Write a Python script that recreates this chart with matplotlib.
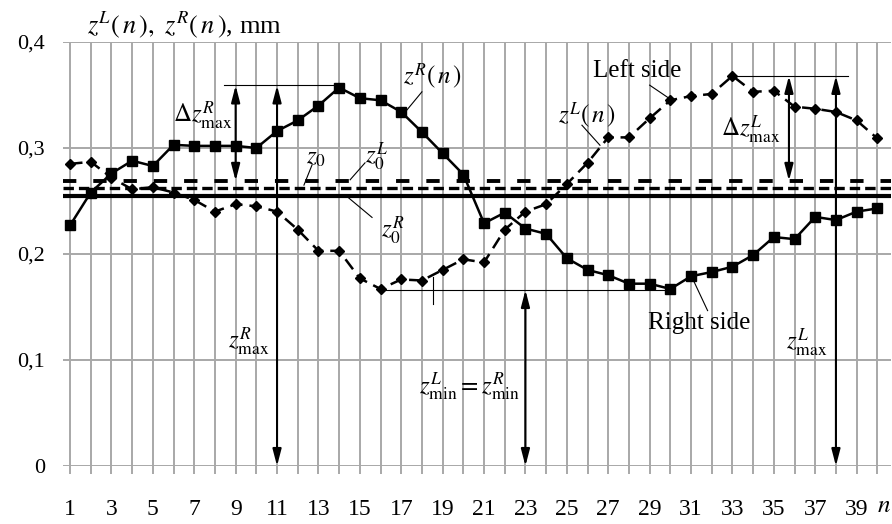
import numpy as np
import matplotlib
matplotlib.use("Agg")
import matplotlib.pyplot as plt

plt.rcParams['font.family'] = ['Liberation Serif', 'DejaVu Serif']
plt.rcParams['mathtext.fontset'] = 'stix'
plt.rcParams['lines.scale_dashes'] = False

# measurement number
n = np.arange(1, 41)
# right side profile z^R(n), mm
right = [0.227, 0.258, 0.276, 0.288, 0.283, 0.303, 0.302, 0.302, 0.302, 0.300,
         0.316, 0.326, 0.340, 0.357, 0.347, 0.345, 0.334, 0.315, 0.295, 0.275,
         0.229, 0.239, 0.224, 0.219, 0.196, 0.185, 0.180, 0.172, 0.172, 0.167,
         0.179, 0.183, 0.188, 0.199, 0.216, 0.214, 0.235, 0.232, 0.240, 0.243]
# left side profile z^L(n), mm
left = [0.285, 0.287, 0.272, 0.261, 0.263, 0.258, 0.251, 0.240, 0.247, 0.245,
        0.240, 0.223, 0.203, 0.203, 0.177, 0.167, 0.176, 0.175, 0.185, 0.195,
        0.192, 0.223, 0.240, 0.247, 0.266, 0.286, 0.310, 0.310, 0.328, 0.345,
        0.349, 0.351, 0.368, 0.353, 0.354, 0.339, 0.337, 0.334, 0.326, 0.309]
# mean levels
z0_L = 0.269
z0 = 0.2625
z0_R = 0.255

yticks = [0, 0.1, 0.2, 0.3, 0.4]
ytick_labels = ['0', '0,1', '0,2', '0,3', '0,4']

grid_c = '#a8a8a8'

fig = plt.figure(figsize=(8.92, 5.24), dpi=100)
ax = fig.add_axes([63 / 892, 1 - 466 / 524, 828 / 892, 424 / 524])
ax.set_xlim(0.66, 40.66)
ax.set_ylim(0, 0.4)
for s in ax.spines.values():
    s.set_visible(False)

# grid
for x in n:
    ax.plot([x, x], [0, 0.4], color=grid_c, lw=1.4, zorder=0)
for y in yticks:
    ax.axhline(y, color=grid_c, lw=1.4, zorder=0)

ax.set_xticks(n)
ax.set_xticklabels([str(v) if v % 2 == 1 else '' for v in n], fontsize=17)
ax.tick_params(axis='x', direction='out', length=6, width=1.4, color=grid_c, pad=18)
ax.set_yticks(yticks)
ax.set_yticklabels(ytick_labels, fontsize=16)
ax.tick_params(axis='y', length=0, pad=13)

# mean levels
ax.axhline(z0_L, color='black', lw=2.8, dashes=(9.6, 12.2), zorder=2)
ax.axhline(z0, color='black', lw=2.4, dashes=(7.5, 3.6), zorder=2)
ax.axhline(z0_R, color='black', lw=3.0, zorder=2)

# profiles
ax.plot(n, right, color='black', lw=1.8, marker='s', ms=7.5, zorder=4)
ax.plot(n, left, color='black', lw=1.8, dashes=(9, 5), marker='D', ms=4.8, zorder=4)

arw = dict(arrowstyle='<|-|>,head_length=0.5,head_width=0.13', color='black',
           lw=1.5, shrinkA=0, shrinkB=0, mutation_scale=20)
thin = dict(color='black', lw=0.8, zorder=3)

zmax_R = max(right)
zmax_L = max(left)
zmin = min(left)

# right maximum
ax.plot([8.44, 14], [zmax_R + 0.002, zmax_R + 0.002], **thin)
ax.annotate('', xy=(11, zmax_R + 0.002), xytext=(11, 0), arrowprops=arw, zorder=5)
ax.annotate('', xy=(9, zmax_R + 0.002), xytext=(9, z0_L), arrowprops=arw, zorder=5)
# left maximum
ax.plot([33, 38.6], [zmax_L, zmax_L], **thin)
ax.annotate('', xy=(38, zmax_L), xytext=(38, 0), arrowprops=arw, zorder=5)
ax.annotate('', xy=(35.73, zmax_L), xytext=(35.73, z0_L), arrowprops=arw, zorder=5)
# minimum
ax.plot([16, 30], [zmin - 0.001, zmin - 0.001], **thin)
ax.plot([18.54, 18.54], [0.153, 0.178], **thin)
ax.annotate('', xy=(23, zmin - 0.001), xytext=(23, 0), arrowprops=arw, zorder=5)

fs = 18
ax.text(8.83, 0.330, r'$\Delta z_{\mathrm{max}}^{R}$', fontsize=fs, ha='right', va='center')
ax.text(10.66, 0.117, r'$z_{\mathrm{max}}^{R}$', fontsize=fs, ha='right', va='center')
ax.text(20.3, 0.075, r'$z_{\mathrm{min}}^{L}=z_{\mathrm{min}}^{R}$', fontsize=fs,
        ha='center', va='center')
ax.text(35.3, 0.317, r'$\Delta z_{\mathrm{max}}^{L}$', fontsize=fs, ha='right', va='center')
ax.text(37.6, 0.116, r'$z_{\mathrm{max}}^{L}$', fontsize=fs, ha='right', va='center')

# labels with leaders
ax.text(28.4, 0.373, 'Left side', fontsize=18, ha='center', va='center')
ax.plot([29.0, 30.08], [0.3593, 0.345], **thin)
ax.text(31.4, 0.135, 'Right side', fontsize=18, ha='center', va='center')
ax.plot([31.8, 31.05], [0.1466, 0.1778], **thin)
ax.text(18.5, 0.368, r'$z^{R}\left(\,n\,\right)$', fontsize=fs, ha='center', va='center')
ax.plot([18.0, 17.28], [0.353, 0.336], **thin)
ax.text(26.0, 0.331, r'$z^{L}\left(\,n\,\right)$', fontsize=fs, ha='center', va='center')
ax.plot([25.73, 26.6], [0.3215, 0.3026], **thin)
ax.text(12.9, 0.291, r'$z_{0}$', fontsize=fs, ha='center', va='center')
ax.plot([12.69, 12.30], [0.284, 0.265], **thin)
ax.text(15.8, 0.292, r'$z_{0}^{L}$', fontsize=fs, ha='center', va='center')
ax.plot([15.25, 14.53], [0.286, 0.270], **thin)
ax.text(16.6, 0.222, r'$z_{0}^{R}$', fontsize=fs, ha='center', va='center')
ax.plot([15.59, 14.43], [0.2345, 0.2534], **thin)

# axis titles
fig.text(87 / 892, 1 - 25 / 524,
         r'$z^{L}\left(\,n\,\right),\ z^{R}\left(\,n\,\right)$, mm',
         fontsize=19, ha='left', va='center')
fig.text(877 / 892, 1 - 506 / 524, r'$n$', fontsize=18, ha='left', va='center')

fig.savefig('out.png', dpi=100)
